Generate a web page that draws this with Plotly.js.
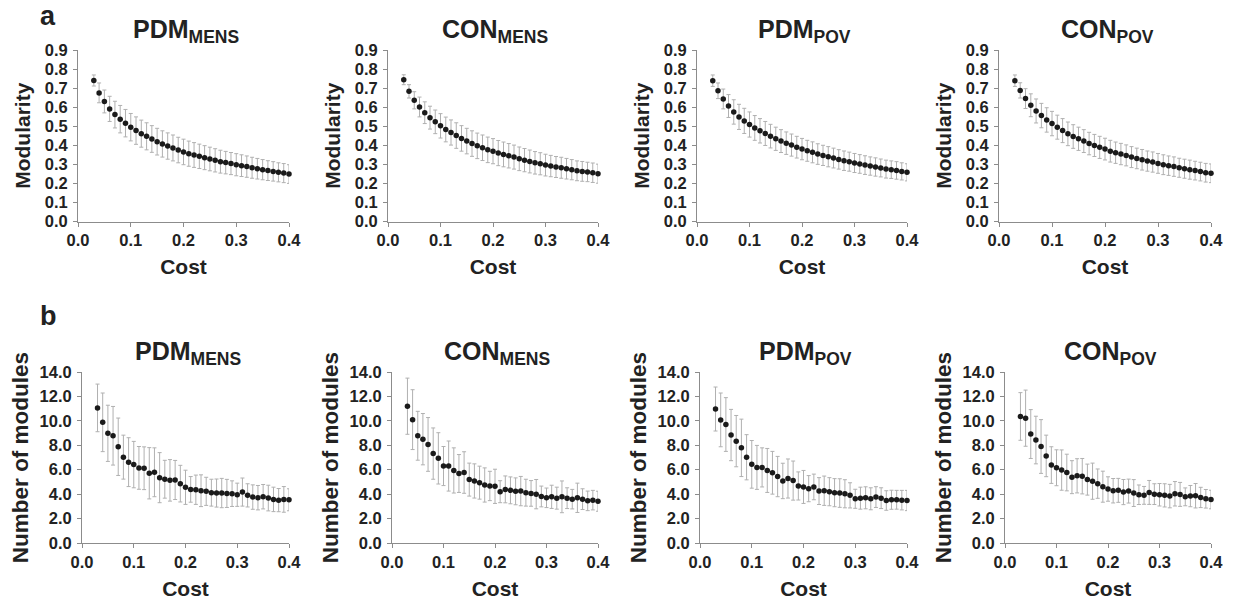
<!DOCTYPE html>
<html>
<head>
<meta charset="utf-8">
<script src="https://cdn.plot.ly/plotly-3.0.1.min.js"></script>
<style>html,body{margin:0;padding:0;background:#fff;}#chart{width:1237px;height:600px;}</style>
</head>
<body>
<div id="chart"></div>
<script>
// ---------- data ----------
const cost = [0.03,0.04,0.05,0.06,0.07,0.08,0.09,0.10,0.11,0.12,0.13,0.14,0.15,0.16,0.17,0.18,0.19,0.20,0.21,0.22,0.23,0.24,0.25,0.26,0.27,0.28,0.29,0.30,0.31,0.32,0.33,0.34,0.35,0.36,0.37,0.38,0.39,0.40];

const groupNames = ['PDM', 'CON', 'PDM', 'CON'];
const groupSubs = ['MENS', 'MENS', 'POV', 'POV'];

// Modularity (row a)
const modPdmMens = [0.740,0.675,0.630,0.591,0.561,0.537,0.516,0.495,0.477,0.461,0.447,0.433,0.419,0.407,0.396,0.386,0.375,0.365,0.356,0.349,0.342,0.335,0.328,0.321,0.314,0.309,0.304,0.298,0.293,0.288,0.282,0.277,0.272,0.267,0.263,0.258,0.254,0.249];
const modPdmMensSd = [0.029,0.052,0.060,0.066,0.070,0.072,0.072,0.072,0.072,0.071,0.071,0.070,0.070,0.069,0.069,0.068,0.067,0.067,0.066,0.065,0.064,0.063,0.062,0.061,0.060,0.059,0.058,0.058,0.057,0.056,0.055,0.054,0.053,0.052,0.051,0.050,0.050,0.049];

const modConMens = [0.744,0.683,0.636,0.601,0.571,0.545,0.523,0.502,0.483,0.467,0.451,0.436,0.422,0.409,0.397,0.387,0.376,0.369,0.359,0.352,0.345,0.338,0.329,0.322,0.315,0.308,0.303,0.296,0.291,0.286,0.282,0.277,0.272,0.266,0.263,0.260,0.256,0.251];
const modConMensSd = [0.026,0.035,0.045,0.052,0.057,0.060,0.062,0.064,0.065,0.066,0.067,0.067,0.067,0.067,0.067,0.067,0.067,0.066,0.066,0.065,0.064,0.063,0.062,0.061,0.060,0.059,0.058,0.057,0.056,0.055,0.055,0.054,0.053,0.052,0.052,0.051,0.051,0.050];

const modPdmPov = [0.739,0.686,0.643,0.606,0.575,0.549,0.528,0.509,0.491,0.476,0.462,0.448,0.434,0.422,0.411,0.401,0.390,0.380,0.371,0.363,0.354,0.347,0.340,0.333,0.326,0.319,0.314,0.307,0.302,0.296,0.291,0.286,0.281,0.275,0.272,0.268,0.263,0.258];
const modPdmPovSd = [0.030,0.041,0.052,0.060,0.064,0.066,0.066,0.066,0.065,0.064,0.063,0.062,0.061,0.060,0.059,0.058,0.057,0.056,0.055,0.055,0.054,0.053,0.053,0.052,0.051,0.051,0.050,0.050,0.049,0.049,0.048,0.048,0.047,0.047,0.046,0.046,0.045,0.045];

const modConPov = [0.739,0.688,0.645,0.610,0.580,0.556,0.533,0.514,0.495,0.477,0.460,0.446,0.434,0.422,0.409,0.399,0.389,0.380,0.369,0.361,0.354,0.347,0.338,0.331,0.324,0.317,0.312,0.305,0.298,0.293,0.288,0.282,0.277,0.272,0.267,0.262,0.256,0.253];
const modConPovSd = [0.030,0.040,0.052,0.060,0.063,0.064,0.064,0.064,0.063,0.063,0.062,0.062,0.061,0.060,0.059,0.058,0.058,0.057,0.057,0.056,0.056,0.055,0.055,0.054,0.054,0.053,0.053,0.052,0.052,0.051,0.051,0.050,0.050,0.050,0.049,0.049,0.049,0.049];

// Number of modules (row b)
const nmPdmMens = [11.06,9.88,8.98,8.78,7.88,7.03,6.62,6.42,6.15,6.12,5.71,5.79,5.35,5.22,5.13,5.16,4.86,4.56,4.39,4.36,4.28,4.23,4.12,4.09,4.09,4.06,4.04,3.95,4.17,3.90,3.76,3.71,3.79,3.68,3.57,3.51,3.57,3.54];
const nmPdmMensSd = [1.95,2.40,2.30,2.40,2.35,1.80,2.00,1.90,1.75,1.75,2.10,2.00,2.05,1.55,1.70,1.60,1.50,1.40,1.05,1.20,1.30,1.15,1.10,1.15,1.20,1.15,1.05,0.95,1.15,0.95,1.00,1.00,1.00,1.05,1.00,0.95,1.05,0.90];

const nmConMens = [11.20,10.10,8.78,8.50,8.07,7.32,6.93,6.30,6.30,5.94,5.69,5.77,5.19,5.08,4.94,4.75,4.67,4.64,4.20,4.39,4.31,4.23,4.25,4.12,4.06,4.00,3.81,3.70,3.78,3.67,3.78,3.67,3.59,3.70,3.59,3.45,3.51,3.42];
const nmConMensSd = [2.30,2.45,2.00,2.10,2.20,2.10,2.10,1.60,2.05,1.85,1.55,1.70,1.35,1.40,1.35,1.40,1.20,1.40,0.90,1.10,1.10,1.10,1.20,1.10,1.05,1.20,0.85,0.80,0.95,0.90,1.30,0.85,0.80,1.20,0.85,0.80,0.80,0.82];

const nmPdmPov = [10.97,10.08,9.70,8.84,8.34,7.79,7.02,6.44,6.19,6.19,5.94,5.75,5.44,5.08,5.28,5.11,4.67,4.59,4.45,4.59,4.25,4.28,4.20,4.12,4.09,4.03,3.90,3.62,3.67,3.70,3.62,3.76,3.67,3.48,3.54,3.54,3.51,3.48];
const nmPdmPovSd = [1.80,2.20,2.20,2.10,2.10,2.35,1.85,1.95,1.80,1.60,1.80,1.75,1.65,1.45,1.60,1.60,1.15,1.35,1.07,1.05,1.10,1.20,1.15,1.15,1.17,1.15,1.03,0.78,0.90,0.90,0.90,0.85,0.85,0.80,0.78,0.77,0.80,0.83];

const nmConPov = [10.36,10.22,8.92,8.43,7.90,7.13,6.38,6.16,5.97,5.77,5.39,5.50,5.47,5.19,5.06,4.86,4.61,4.42,4.28,4.31,4.17,4.25,4.09,3.95,3.90,4.14,4.00,3.95,3.90,3.84,4.03,3.98,3.78,3.84,3.87,3.73,3.62,3.56];
const nmConPovSd = [1.95,2.30,2.00,1.95,2.20,1.70,1.50,1.47,1.65,1.50,1.35,1.40,1.45,1.27,1.48,1.20,1.27,1.00,1.00,0.98,1.03,0.98,1.10,0.80,0.73,0.98,0.85,0.92,0.95,0.96,1.00,0.98,0.73,0.87,1.00,0.83,0.76,0.76];

const xTickVals = [0, 0.1, 0.2, 0.3, 0.4];
const xTickText = ['0.0', '0.1', '0.2', '0.3', '0.4'];
const modTickVals = [0, 0.1, 0.2, 0.3, 0.4, 0.5, 0.6, 0.7, 0.8, 0.9];
const modTickText = ['0.0', '0.1', '0.2', '0.3', '0.4', '0.5', '0.6', '0.7', '0.8', '0.9'];
const nmTickVals = [0, 2, 4, 6, 8, 10, 12, 14];
const nmTickText = ['0.0', '2.0', '4.0', '6.0', '8.0', '10.0', '12.0', '14.0'];

const rowLabels = ['a', 'b'];
const yTitles = ['Modularity', 'Number of modules'];
const xTitle = 'Cost';

// ---------- layout geometry (pixels) ----------
const W = 1237, H = 600;
const topX = [[78, 289], [388, 598], [697, 907], [999, 1211]];
const botX = [[82, 289], [392, 598], [700, 907], [1005, 1211]];
const topY = [50, 221.5];
const botY = [372, 543];

const modSeries = [[modPdmMens, modPdmMensSd], [modConMens, modConMensSd], [modPdmPov, modPdmPovSd], [modConPov, modConPovSd]];
const nmSeries = [[nmPdmMens, nmPdmMensSd], [nmConMens, nmConMensSd], [nmPdmPov, nmPdmPovSd], [nmConPov, nmConPovSd]];

const FONT = 'Liberation Sans, Arial, Helvetica, sans-serif';
const textColor = '#222222';
const axisColor = '#8c8c8c';

const traces = [];
const layout = {
  width: W, height: H,
  margin: {l: 0, r: 0, t: 0, b: 0},
  paper_bgcolor: '#ffffff',
  plot_bgcolor: 'rgba(0,0,0,0)',
  showlegend: false,
  annotations: [],
  font: {family: FONT, color: textColor}
};

function axisBase() {
  return {
    showline: true, linecolor: axisColor, linewidth: 1,
    ticks: 'outside', ticklen: 4, tickwidth: 1, tickcolor: axisColor,
    showgrid: false, zeroline: false, fixedrange: true,
    tickfont: {family: FONT, size: 16.5, weight: 'bold', color: textColor}
  };
}

function dx(px) { return px / W; }
function dy(py) { return 1 - py / H; }

for (let r = 0; r < 2; r++) {
  for (let c = 0; c < 4; c++) {
    const i = r * 4 + c + 1;
    const xs = r === 0 ? topX[c] : botX[c];
    const ys = r === 0 ? topY : botY;
    const series = r === 0 ? modSeries[c] : nmSeries[c];
    const xk = 'xaxis' + (i === 1 ? '' : i);
    const yk = 'yaxis' + (i === 1 ? '' : i);
    const xa = 'x' + (i === 1 ? '' : i);
    const ya = 'y' + (i === 1 ? '' : i);

    traces.push({
      type: 'scatter', mode: 'markers',
      x: cost, y: series[0],
      xaxis: xa, yaxis: ya,
      cliponaxis: false,
      marker: {color: '#1a1a1a', size: 5.5},
      error_y: {type: 'data', array: series[1], visible: true, color: '#b0b0b0', thickness: 1, width: 2},
      hoverinfo: 'x+y'
    });

    layout[xk] = Object.assign(axisBase(), {
      domain: [dx(xs[0]), dx(xs[1])],
      anchor: ya,
      range: [0, 0.4],
      tickvals: xTickVals, ticktext: xTickText,
      title: {text: '<b>' + xTitle + '</b>', font: {family: FONT, size: 21, color: textColor}, standoff: 11}
    });
    layout[yk] = Object.assign(axisBase(), {
      domain: [dy(ys[1]), dy(ys[0])],
      anchor: xa,
      range: r === 0 ? [0, 0.9] : [0, 14],
      tickvals: r === 0 ? modTickVals : nmTickVals,
      ticktext: r === 0 ? modTickText : nmTickText,
      ticklabelstandoff: 2,
      title: {text: '<b>' + yTitles[r] + '</b>', font: {family: FONT, size: r === 0 ? 21 : 22.5, color: textColor}, standoff: r === 0 ? 8 : 4}
    });

    layout.annotations.push({
      xref: 'paper', yref: 'paper',
      x: dx((xs[0] + xs[1]) / 2 + 2), y: dy(r === 0 ? 49 : 371),
      xanchor: 'center', yanchor: 'bottom',
      text: '<b>' + groupNames[c] + '<sub>' + groupSubs[c] + '</sub></b>',
      showarrow: false,
      font: {family: FONT, size: 25, color: textColor}
    });
  }
}

layout.annotations.push({
  xref: 'paper', yref: 'paper', x: dx(38), y: dy(16), xanchor: 'left', yanchor: 'middle',
  text: '<b>' + rowLabels[0] + '</b>', showarrow: false, font: {family: FONT, size: 27, color: textColor}
});
layout.annotations.push({
  xref: 'paper', yref: 'paper', x: dx(38), y: dy(316), xanchor: 'left', yanchor: 'middle',
  text: '<b>' + rowLabels[1] + '</b>', showarrow: false, font: {family: FONT, size: 27, color: textColor}
});

Plotly.newPlot('chart', traces, layout, {displayModeBar: false, staticPlot: true});
</script>
</body>
</html>
